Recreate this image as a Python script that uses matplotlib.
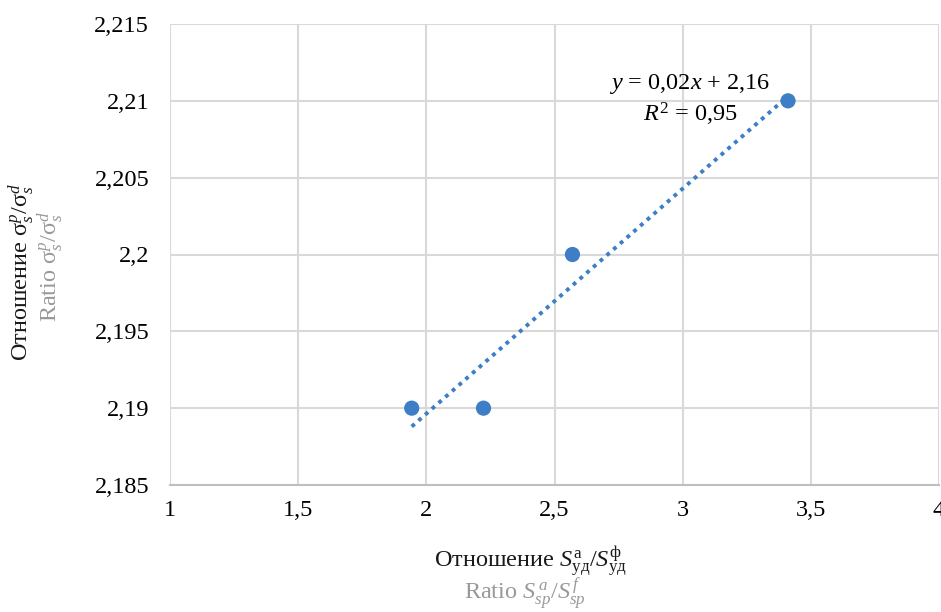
import matplotlib
matplotlib.use("Agg")
import matplotlib.pyplot as plt
import numpy as np
from matplotlib.ticker import FuncFormatter

plt.rcParams['font.family'] = ['Liberation Serif', 'DejaVu Serif']
plt.rcParams['mathtext.fontset'] = 'custom'
plt.rcParams['mathtext.rm'] = 'Liberation Serif'
plt.rcParams['mathtext.it'] = 'Liberation Serif:italic'
plt.rcParams['mathtext.bf'] = 'Liberation Serif:bold'

# Data
ratio_area = [1.943, 2.223, 2.570, 3.411]
ratio_sigma = [2.19, 2.19, 2.20, 2.21]
x_ticks = [1, 1.5, 2, 2.5, 3, 3.5, 4]
y_ticks = [2.185, 2.19, 2.195, 2.2, 2.205, 2.21, 2.215]

blue = '#3d7ec6'
grid_c = '#d9d9d9'
fs = 17.5

fig = plt.figure(figsize=(9.41, 6.12), dpi=100)
ax = fig.add_axes([170/941, 1-485/612, (939-170)/941, (485-24)/612])

ax.set_xlim(1, 4)
ax.set_ylim(2.185, 2.215)
ax.set_xticks(x_ticks)
ax.set_yticks(y_ticks)
fmt = FuncFormatter(lambda v, p: ('%g' % v).replace('.', ','))
ax.xaxis.set_major_formatter(fmt)
ax.yaxis.set_major_formatter(fmt)
ax.grid(True, color=grid_c, linewidth=1.5)
ax.set_axisbelow(True)
for s in ['top', 'right', 'left']:
    ax.spines[s].set_visible(False)
ax.spines['bottom'].set_color('#bfbfbf')
ax.spines['bottom'].set_linewidth(1.5)
ax.tick_params(length=0, labelsize=fs)
ax.tick_params(axis='x', pad=11)
ax.tick_params(axis='y', pad=15)

# trendline
xa = np.array(ratio_area)
ya = np.array(ratio_sigma)
k, b = np.polyfit(xa, ya, 1)
xs = np.array([xa.min(), xa.max()])
ax.plot(xs, k*xs + b, linestyle=(0, (1, 1.3)), color=blue, linewidth=2.8, zorder=2)
ax.scatter(xa, ya, s=120, color=blue, zorder=3, edgecolors='none')

ax.text(690/941, 1-84/612, '$y$ = 0,02$x$ + 2,16', transform=fig.transFigure,
        ha='center', va='center', fontsize=fs)
ax.text(690/941, 1-114/612, '$R^2$ = 0,95', transform=fig.transFigure,
        ha='center', va='center', fontsize=fs)

# axis labels
fig.text(530/941, 1-562/612, r'Отношение $S^{\mathrm{а}}_{\mathrm{уд}}/S^{\mathrm{ф}}_{\mathrm{уд}}$',
         ha='center', va='center', fontsize=fs, color='#1a1a1a')
fig.text(525/941, 1-594/612, r'Ratio $S^{\,a}_{sp}/S^{\,f}_{sp}$',
         ha='center', va='center', fontsize=fs, color='#999999')
fig.text(21/941, 1-272/612, r'Отношение $\mathrm{σ}^{p}_{s}/\mathrm{σ}^{d}_{s}$', rotation=90,
         ha='center', va='center', fontsize=fs, color='#1a1a1a')
fig.text(50/941, 1-266/612, r'Ratio $\mathrm{σ}^{p}_{s}/\mathrm{σ}^{d}_{s}$', rotation=90,
         ha='center', va='center', fontsize=fs, color='#999999')

fig.savefig('out.png', dpi=100)
